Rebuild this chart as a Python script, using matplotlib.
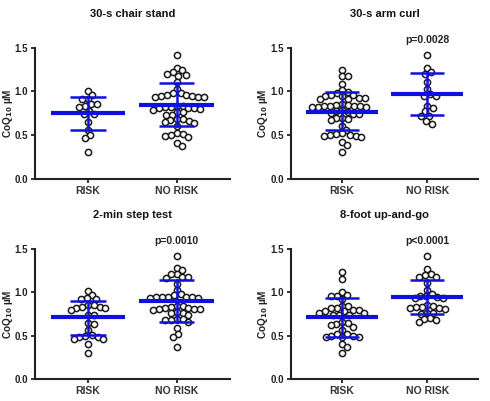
import numpy as np
import matplotlib.pyplot as plt

plt.rcParams['font.family'] = ['Liberation Sans', 'DejaVu Sans']

titles = ['30-s chair stand', '30-s arm curl', '2-min step test', '8-foot up-and-go']
groups = ['RISK', 'NO RISK']
pvals = [None, 'p=0.0028', 'p=0.0010', 'p<0.0001']

# CoQ10 values
chair_risk = [1.01, 0.96, 0.915, 0.915, 0.857, 0.83, 0.82, 0.857, 0.78, 0.74, 0.74,
              0.647, 0.563, 0.50, 0.47, 0.306]
chair_norisk = [1.416, 1.27, 1.217, 1.19, 1.175, 1.205, 1.24, 1.106, 1.03,
                0.98, 0.957, 0.95, 0.94, 0.934, 0.94, 0.95, 0.957, 0.98,
                0.823, 0.815, 0.807, 0.83, 0.838, 0.82, 0.79, 0.80, 0.815,
                0.77, 0.735, 0.76, 0.735, 0.69, 0.67, 0.64, 0.68, 0.647, 0.666,
                0.60, 0.513, 0.49, 0.478, 0.50, 0.524, 0.38, 0.41]
arm_risk = [1.25, 1.18, 1.18, 1.087, 1.014, 0.99, 0.98, 0.96, 0.95, 0.93, 0.915,
            0.915, 0.93, 0.945, 0.96, 0.85, 0.83, 0.83, 0.82, 0.82, 0.82, 0.83,
            0.83, 0.84, 0.857, 0.785, 0.76, 0.74, 0.74, 0.754, 0.78, 0.70, 0.68,
            0.67, 0.70, 0.61, 0.563, 0.524, 0.505, 0.494, 0.478, 0.486, 0.50,
            0.517, 0.417, 0.386, 0.306]
arm_norisk = [1.416, 1.27, 1.22, 1.205, 1.106, 1.03, 0.953, 0.945, 0.97, 0.838,
              0.81, 0.773, 0.72, 0.72, 0.63, 0.66]
step_risk = [1.02, 0.97, 0.92, 0.92, 0.94, 0.856, 0.83, 0.82, 0.80, 0.82, 0.83,
             0.856, 0.74, 0.74, 0.644, 0.632, 0.56, 0.51, 0.50, 0.49, 0.49, 0.46,
             0.46, 0.405, 0.297]
step_norisk = [1.423, 1.26, 1.28, 1.21, 1.18, 1.17, 1.18, 1.21, 1.10, 1.03,
               0.95, 0.945, 0.93, 0.97, 0.98, 0.945, 0.93, 0.945, 0.95,
               0.817, 0.83, 0.837, 0.845, 0.81, 0.806, 0.80, 0.81, 0.817,
               0.76, 0.775, 0.74, 0.767, 0.694, 0.675, 0.652, 0.675, 0.69,
               0.586, 0.52, 0.49, 0.374]
upgo_risk = [1.24, 1.157, 1.003, 0.96, 0.92, 0.953, 0.972, 0.837, 0.82, 0.80,
             0.79, 0.80, 0.82, 0.845, 0.767, 0.74, 0.74, 0.74, 0.767, 0.78,
             0.644, 0.625, 0.605, 0.636, 0.66, 0.56, 0.52, 0.50, 0.48, 0.48,
             0.49, 0.50, 0.52, 0.405, 0.374, 0.297]
upgo_norisk = [1.415, 1.27, 1.215, 1.18, 1.176, 1.20, 1.107, 1.022, 0.98, 0.953,
               0.933, 0.935, 0.945, 0.953, 0.82, 0.83, 0.837, 0.83, 0.806, 0.817,
               0.856, 0.76, 0.75, 0.76, 0.70, 0.66, 0.675, 0.69]

data = [(chair_risk, chair_norisk), (arm_risk, arm_norisk),
        (step_risk, step_norisk), (upgo_risk, upgo_norisk)]

# mean and SD lines: (mean, lower, upper)
bars = [((0.75, 0.56, 0.94), (0.85, 0.60, 1.10)),
        ((0.77, 0.555, 0.99), (0.97, 0.735, 1.21)),
        ((0.71, 0.513, 0.90), (0.90, 0.66, 1.138)),
        ((0.713, 0.49, 0.933), (0.945, 0.752, 1.138))]


def swarm(ax, xc, vals, d=6.0):
    # simple beeswarm in pixel space
    vals = np.sort(np.asarray(vals))[::-1]
    pix = ax.transData.transform(np.column_stack([np.full(len(vals), xc), vals]))
    x0 = pix[0, 0]
    placed = []
    for px, py in pix:
        cands = [0.0]
        for qx, qy in placed:
            dy = py - qy
            if abs(dy) < d:
                dx = np.sqrt(d * d - dy * dy)
                cands += [qx - x0 + dx, qx - x0 - dx]
        cands.sort(key=abs)
        for c in cands:
            ok = all((x0 + c - qx) ** 2 + (py - qy) ** 2 >= d * d - 1e-6 for qx, qy in placed)
            if ok:
                placed.append((x0 + c, py))
                break
    pts = ax.transData.inverted().transform(np.array(placed))
    return pts[:, 0], pts[:, 1]


fig = plt.figure(figsize=(4.9, 4.01), dpi=100)
pos = [(0.071, 0.554, 0.398, 0.327), (0.594, 0.554, 0.382, 0.327),
       (0.071, 0.055, 0.398, 0.324), (0.594, 0.055, 0.382, 0.324)]
label_x = [-0.1, -0.112, -0.1, -0.112]
blue = '#1010e0'
dark = '#222222'

for i in range(4):
    ax = fig.add_axes(pos[i])
    ax.set_xlim(-0.6, 1.6)
    ax.set_ylim(0, 1.5)
    for s in ['top', 'right']:
        ax.spines[s].set_visible(False)
    for s in ['left', 'bottom']:
        ax.spines[s].set_linewidth(1.5)
        ax.spines[s].set_color(dark)
    ax.set_yticks([0, 0.5, 1.0, 1.5])
    ax.set_yticklabels(['0.0', '0.5', '1.0', '1.5'], fontsize=7, fontweight='bold', color=dark)
    ax.set_xticks([0, 1])
    ax.set_xticklabels(groups, fontsize=7.5, fontweight='bold', color='#333333')
    ax.tick_params(axis='both', width=1.3, length=3, color=dark, pad=2)
    ax.set_ylabel(r'CoQ$_{\mathbf{10}}$ µM', fontsize=7.2, fontweight='bold', color=dark)
    ax.yaxis.set_label_coords(label_x[i], 0.5)
    ax.set_title(titles[i], fontsize=8, fontweight='bold', pad=22, color='#111111')
    if pvals[i]:
        ax.text(1, 1.53, pvals[i], ha='center', va='bottom', fontsize=7.5,
                fontweight='bold', color='#222222', clip_on=False)

    for g in range(2):
        xs, ys = swarm(ax, g, data[i][g])
        ax.scatter(xs, ys, s=20, facecolors='white', edgecolors='#1a1a1a',
                   linewidths=1.1, zorder=2, clip_on=False)
        m, lo, hi = bars[i][g]
        ax.plot([g - 0.42, g + 0.42], [m, m], color=blue, lw=3, zorder=3, solid_capstyle='butt')
        ax.plot([g - 0.2, g + 0.2], [lo, lo], color=blue, lw=1.8, zorder=3, solid_capstyle='butt')
        ax.plot([g - 0.2, g + 0.2], [hi, hi], color=blue, lw=1.8, zorder=3, solid_capstyle='butt')
        ax.plot([g, g], [lo, hi], color=blue, lw=1.8, zorder=3)

fig.savefig('out.png', dpi=100)
